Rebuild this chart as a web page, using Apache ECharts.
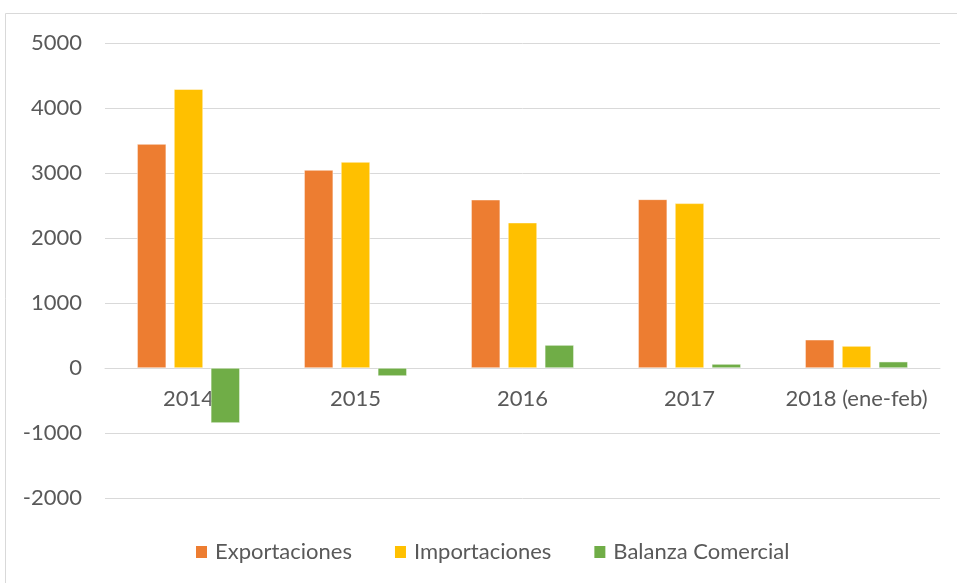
<!DOCTYPE html>
<html>
<head>
<meta charset="utf-8">
<script src="https://cdn.jsdelivr.net/npm/echarts@6/dist/echarts.min.js"></script>
<style>
  html, body { margin: 0; padding: 0; background: #fff; }
  #container { width: 957px; height: 583px; }
</style>
</head>
<body>
<div id="container"></div>
<script>
let chart = echarts.init(document.getElementById('container'));

// datos
var categories = ['2014', '2015', '2016', '2017', '2018 (ene-feb)'];
var exportaciones = [3445, 3046, 2589, 2594, 435];
var importaciones = [4290, 3169, 2236, 2533, 338];
var balanza = [-845, -123, 353, 61, 97];
var yTicks = { min: -2000, max: 5000, interval: 1000 };

var textColor = '#595959';
var font = 'Lato, "Open Sans", sans-serif';

var barStyle = function (color) {
    return {
        color: color,
        borderColor: '#fff',
        borderWidth: 0.5
    };
};

let option = {
    animation: false,
    textStyle: { fontFamily: font },
    graphic: [{
        type: 'rect',
        shape: { x: 5.5, y: 13.5, width: 960, height: 600 },
        style: { fill: 'none', stroke: '#d9d9d9', lineWidth: 1 },
        silent: true
    }],
    legend: {
        data: ['Exportaciones', 'Importaciones', 'Balanza Comercial'],
        top: 536,
        left: 189,
        itemWidth: 13,
        itemHeight: 14,
        itemGap: 41,
        icon: 'rect',
        textStyle: { color: textColor, fontSize: 22, fontFamily: font, padding: [0, 0, 0, 2] }
    },
    grid: {
        left: 105,
        right: 17,
        top: 43,
        bottom: 85,
        containLabel: false
    },
    xAxis: {
        type: 'category',
        data: categories,
        offset: -130,
        axisLine: { onZero: false, lineStyle: { color: '#d9d9d9', width: 1 } },
        axisTick: { show: false },
        axisLabel: { color: textColor, fontSize: 22, margin: 20, fontFamily: font, interval: 0 }
    },
    yAxis: {
        type: 'value',
        min: yTicks.min,
        max: yTicks.max,
        interval: yTicks.interval,
        axisLine: { show: false },
        axisTick: { show: false },
        splitLine: { lineStyle: { color: '#d9d9d9', width: 1 } },
        axisLabel: {
            color: textColor,
            fontSize: 22,
            margin: 23,
            fontFamily: font,
            formatter: function (value) { return String(value); }
        }
    },
    series: [{
            name: 'Exportaciones',
            type: 'bar',
            barWidth: 29,
            barGap: '27%',
            itemStyle: barStyle('#ed7d31'),
            data: exportaciones
        },
        {
            name: 'Importaciones',
            type: 'bar',
            barWidth: 29,
            barGap: '27%',
            itemStyle: barStyle('#ffc000'),
            data: importaciones
        },
        {
            name: 'Balanza Comercial',
            type: 'bar',
            barWidth: 29,
            barGap: '27%',
            itemStyle: barStyle('#70ad47'),
            data: balanza
        }
    ]
};

chart.setOption(option);
</script>
</body>
</html>
